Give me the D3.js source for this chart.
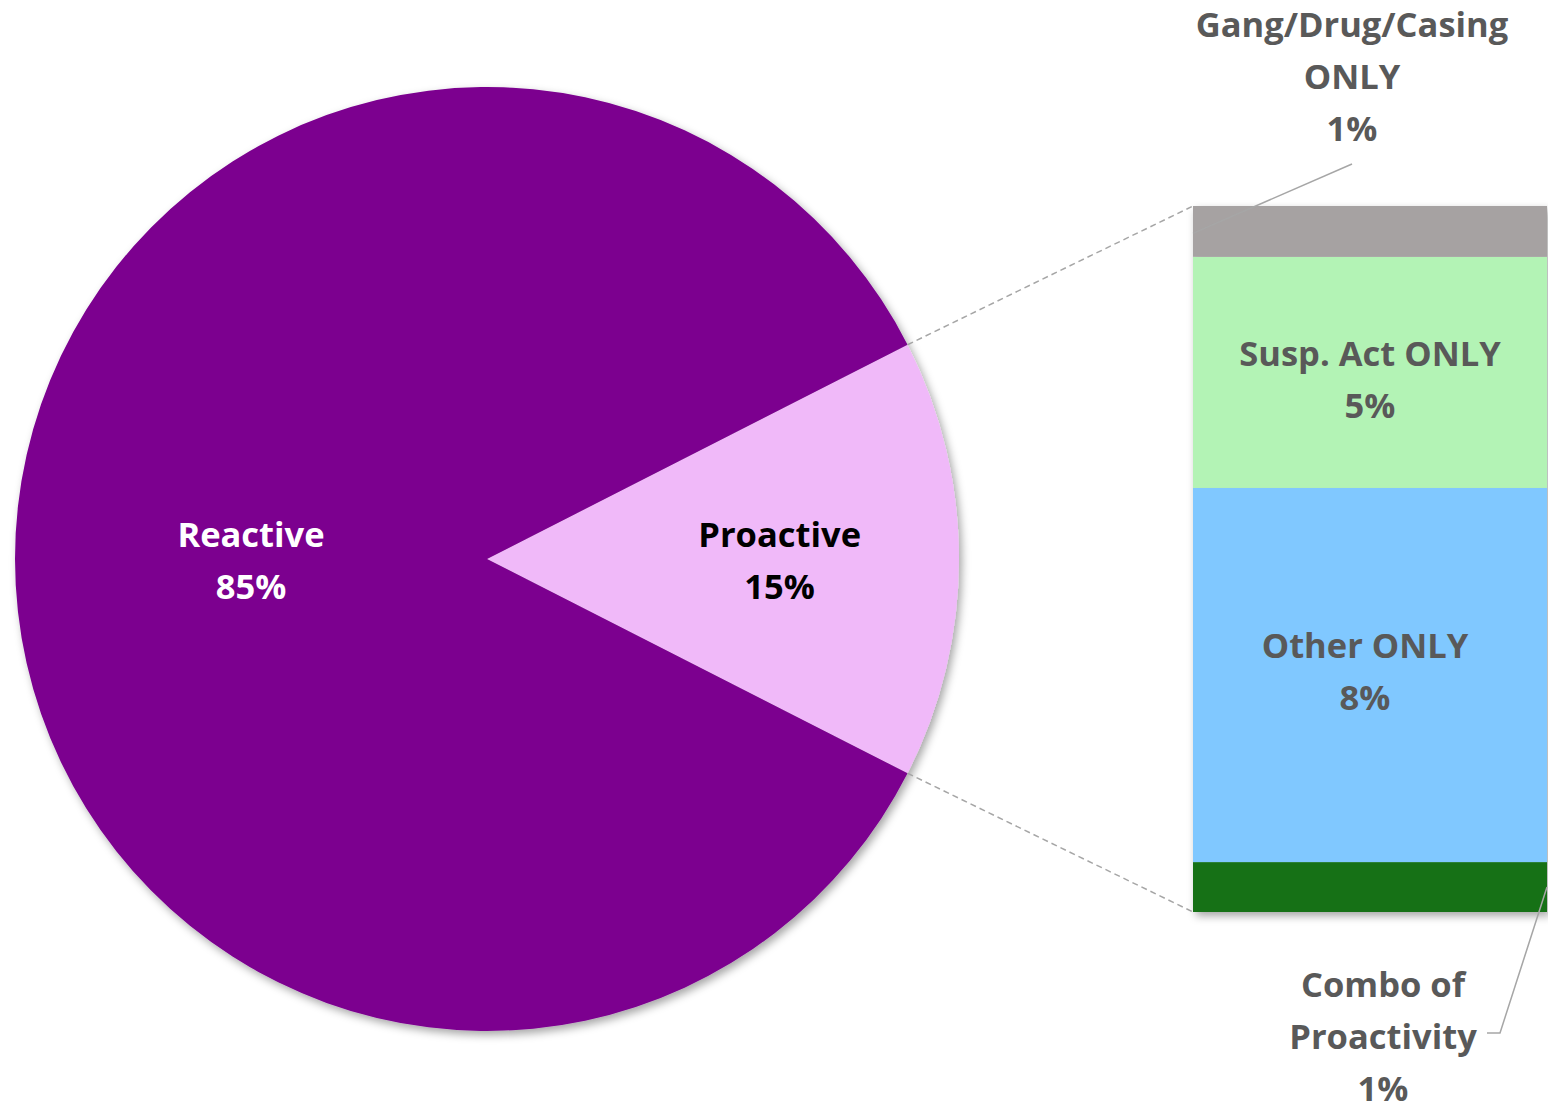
<!DOCTYPE html>
<html><head><meta charset="utf-8">
<script src="https://cdn.jsdelivr.net/npm/d3@7/dist/d3.min.js"></script>
<style>body{margin:0;background:#fff}svg{display:block}text{font-family:"Open Sans",Lato,sans-serif;font-weight:bold;font-variant-ligatures:none}</style>
</head><body>
<script>
const pieCategories = ["Proactive", "Reactive"];
const pieValues = [15, 85];
const pieColors = ["#F0B9F9", "#7B068F"];
const pieTextColors = ["#000000", "#FFFFFF"];

const barCategories = ["Combo of Proactivity", "Other ONLY", "Susp. Act ONLY", "Gang/Drug/Casing ONLY"];
const barValues = [1.06, 7.95, 4.91, 1.08];
const barLabels = ["1%", "8%", "5%", "1%"];
const barColors = ["#137113", "#80C8FF", "#B3F3B5", "#A6A2A2"];

const W = 1548, H = 1106;
const svg = d3.select("body").append("svg").attr("width", W).attr("height", H);
const defs = svg.append("defs");
const f = defs.append("filter").attr("id","sh").attr("x","-10%").attr("y","-10%").attr("width","130%").attr("height","130%");
f.append("feDropShadow").attr("dx",3).attr("dy",4).attr("stdDeviation",4).attr("flood-color","#000").attr("flood-opacity",0.35);

const cx = 487, cy = 559, R = 472;
const span = 2*Math.PI*pieValues[0]/100;
const start = Math.PI/2 - span/2;
const pie = d3.pie().sort(null).startAngle(start).endAngle(start + 2*Math.PI);
const arcs = pie(pieValues);
const arc = d3.arc().innerRadius(0).outerRadius(R);
const g = svg.append("g").attr("transform", `translate(${cx},${cy})`);
g.append("g").attr("filter","url(#sh)").selectAll("path").data(arcs).join("path")
  .attr("d", arc).attr("fill", (d,i)=>pieColors[i]);

const ax = cx + R*Math.sin(start), ayTop = cy - R*Math.cos(start);
const a2 = start + span;
const bx = cx + R*Math.sin(a2), byB = cy - R*Math.cos(a2);

const x0 = 1193, x1 = 1547;
const y = d3.scaleLinear().domain([0, d3.sum(barValues)]).range([912, 206]);
const stacked = [];
let acc = 0;
barValues.forEach((v,i)=>{ stacked.push({i, y0: acc, y1: acc+v}); acc += v; });

svg.append("line").attr("x1",ax).attr("y1",ayTop).attr("x2",x0).attr("y2",y(acc))
  .attr("stroke","#A6A6A6").attr("stroke-width",1.5).attr("stroke-dasharray","6,4");
svg.append("line").attr("x1",bx).attr("y1",byB).attr("x2",x0).attr("y2",y(0))
  .attr("stroke","#A6A6A6").attr("stroke-width",1.5).attr("stroke-dasharray","6,4");

svg.append("g").attr("filter","url(#sh)").selectAll("rect").data(stacked).join("rect")
  .attr("x", x0).attr("width", x1-x0)
  .attr("y", d=>y(d.y1)).attr("height", d=>y(d.y0)-y(d.y1))
  .attr("fill", d=>barColors[d.i]);

const fs = 34.5, lh = 52;
const labelR = [0.62*R, 0.5*R];
arcs.forEach((d,i)=>{
  const m = (d.startAngle+d.endAngle)/2;
  const lx = cx + labelR[i]*Math.sin(m), ly = cy - labelR[i]*Math.cos(m);
  const t = svg.append("text").attr("text-anchor","middle").attr("font-size",fs).attr("fill",pieTextColors[i]);
  t.append("tspan").attr("x",lx).attr("y",ly-12).text(pieCategories[i]);
  t.append("tspan").attr("x",lx).attr("y",ly+40).text(Math.round(d.value)+"%");
});

function label(lines, x, yb){
  const t = svg.append("text").attr("text-anchor","middle").attr("font-size",fs).attr("fill","#595959");
  lines.forEach((s,k)=> t.append("tspan").attr("x",x).attr("y",yb+k*lh).text(s));
}
label(["Susp. Act ONLY", barLabels[2]], 1370, 366);
label(["Other ONLY", barLabels[1]], 1365, 658);
label(["Gang/Drug/Casing", "ONLY", barLabels[3]], 1352, 37);
label(["Combo of", "Proactivity", barLabels[0]], 1383, 997);

svg.append("polyline").attr("points", `1352,164 ${x0},${(y(acc)+y(acc-barValues[3]))/2+2}`)
  .attr("fill","none").attr("stroke","#A6A6A6").attr("stroke-width",1.5);
svg.append("polyline").attr("points", `${x1},${(y(0)+y(barValues[0]))/2} 1500,1033 1487,1033`)
  .attr("fill","none").attr("stroke","#A6A6A6").attr("stroke-width",1.5);
</script>
</body></html>
